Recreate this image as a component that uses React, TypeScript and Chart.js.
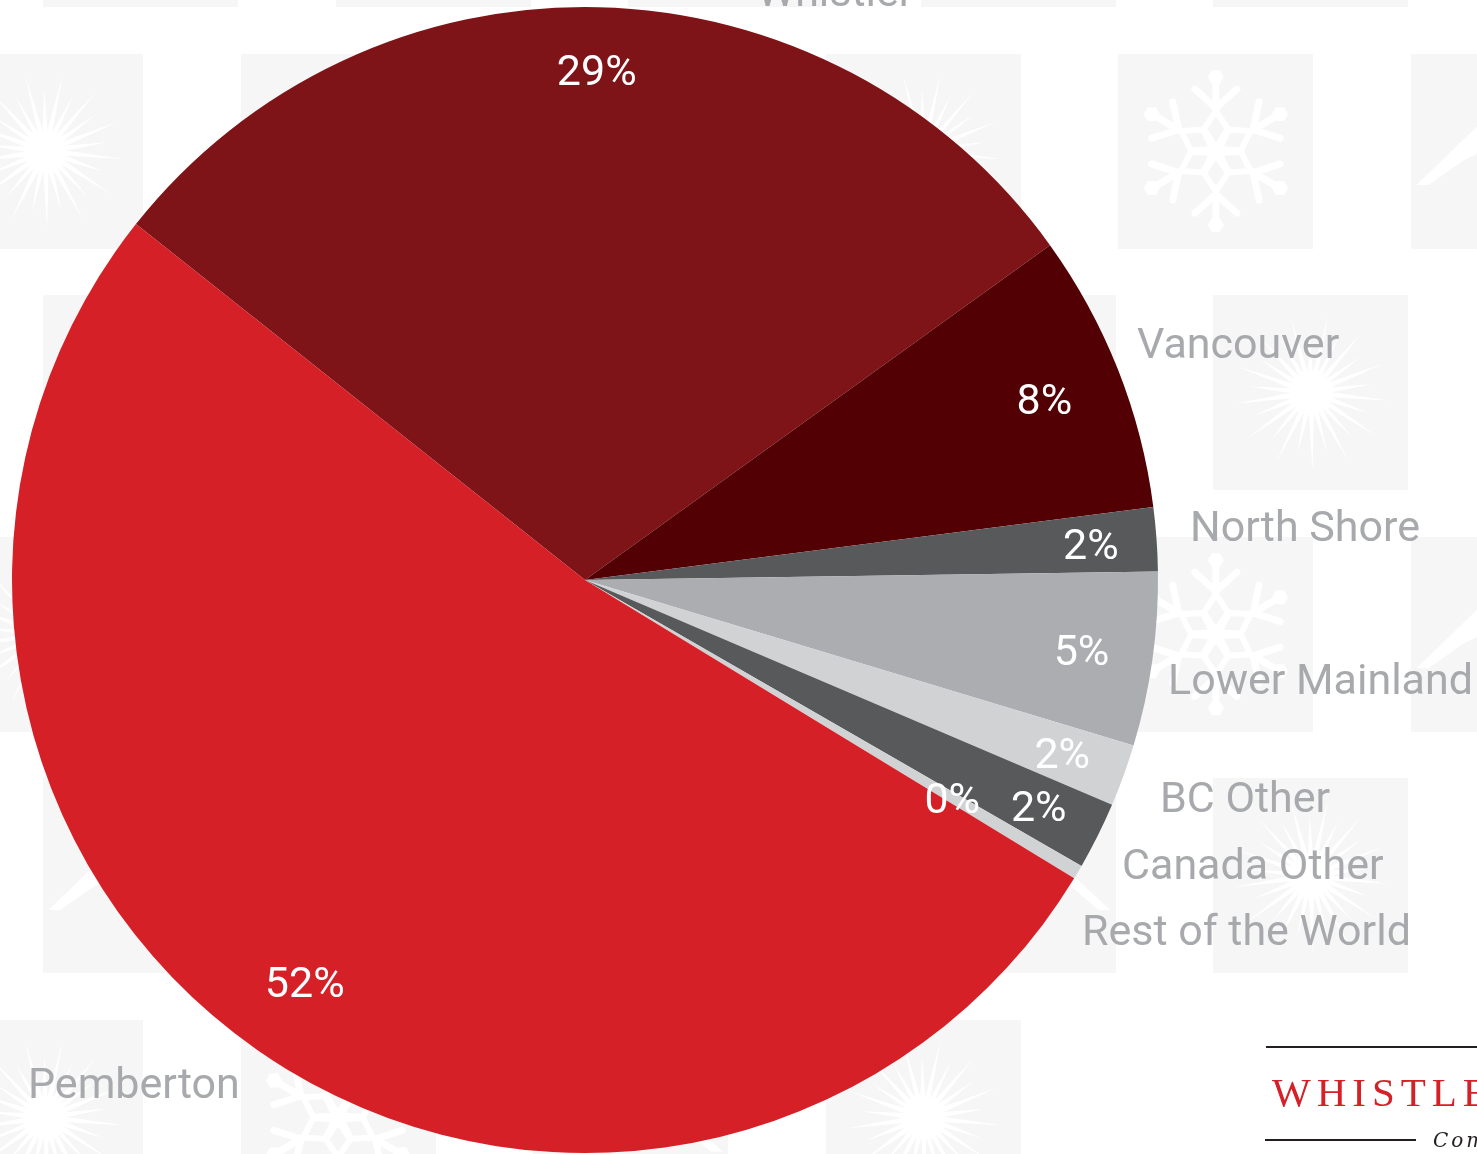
import React, { useEffect, useRef } from "react";
import { Chart, registerables } from "chart.js";

Chart.register(...registerables);

// ---- data ----
const categories = [
  "Whistler",
  "Vancouver",
  "North Shore",
  "Lower Mainland",
  "BC Other",
  "Canada Other",
  "Rest of the World",
  "Pemberton",
];
const shares = [29.4, 7.9, 1.8, 4.9, 1.75, 1.9, 0.4, 51.95];
const sliceColors = [
  "#7f1418",
  "#520004",
  "#58595b",
  "#acadb0",
  "#d1d2d4",
  "#58595b",
  "#d1d2d4",
  "#d52027",
];
const logoTitle = "WHISTLER";
const logoSub = "Com";

// ---- layout / style ----
const W = 1477;
const H = 1154;
const rotationDeg = -51.6;
const pctRadius = [0.89, 0.862, 0.885, 0.875, 0.886, 0.885, 0.745, 0.855];
// category label offsets from the pie centre (left-aligned, alphabetic baseline)
const nameOffsets: [number, number][] = [
  [172, -574],
  [552, -222],
  [605, -39],
  [583, 114],
  [575, 232],
  [537, 299],
  [497, 365],
  [-557, 518],
];
const labelGray = "#a7a9ac";
const tileGray = "#f6f6f6";

function drawBurst(ctx: CanvasRenderingContext2D, cx: number, cy: number) {
  ctx.save();
  ctx.fillStyle = "#ffffff";
  const n = 26;
  for (let i = 0; i < n; i++) {
    const a = (i / n) * Math.PI * 2 + 0.1;
    const L = i % 2 === 0 ? 78 : 62;
    const px = Math.cos(a + Math.PI / 2);
    const py = Math.sin(a + Math.PI / 2);
    ctx.beginPath();
    ctx.moveTo(cx + Math.cos(a) * 8 + px * 3.2, cy + Math.sin(a) * 8 + py * 3.2);
    ctx.lineTo(cx + Math.cos(a) * L, cy + Math.sin(a) * L);
    ctx.lineTo(cx + Math.cos(a) * 8 - px * 3.2, cy + Math.sin(a) * 8 - py * 3.2);
    ctx.closePath();
    ctx.fill();
  }
  ctx.beginPath();
  ctx.arc(cx, cy, 14, 0, Math.PI * 2);
  ctx.fill();
  ctx.restore();
}

function drawFlake(ctx: CanvasRenderingContext2D, cx: number, cy: number) {
  ctx.save();
  ctx.strokeStyle = "#ffffff";
  ctx.fillStyle = "#ffffff";
  ctx.lineWidth = 7;
  ctx.lineCap = "round";
  for (let k = 0; k < 6; k++) {
    const a = (k * Math.PI) / 3 - Math.PI / 2;
    const ux = Math.cos(a);
    const uy = Math.sin(a);
    const vx = -uy;
    const vy = ux;
    ctx.beginPath();
    ctx.moveTo(cx + ux * 38, cy + uy * 38);
    ctx.lineTo(cx + ux * 66, cy + uy * 66);
    ctx.stroke();
    ctx.beginPath();
    ctx.moveTo(cx + ux * 62 + vx * 21, cy + uy * 62 + vy * 21);
    ctx.lineTo(cx + ux * 43, cy + uy * 43);
    ctx.lineTo(cx + ux * 62 - vx * 21, cy + uy * 62 - vy * 21);
    ctx.stroke();
    ctx.beginPath();
    for (let h = 0; h < 6; h++) {
      const b = (h * Math.PI) / 3;
      const hx = cx + ux * 74 + Math.cos(b) * 8;
      const hy = cy + uy * 74 + Math.sin(b) * 8;
      if (h === 0) ctx.moveTo(hx, hy);
      else ctx.lineTo(hx, hy);
    }
    ctx.closePath();
    ctx.fill();
    ctx.beginPath();
    ctx.moveTo(cx + ux * 4, cy + uy * 4);
    ctx.lineTo(cx + ux * 22 + vx * 12, cy + uy * 22 + vy * 12);
    ctx.lineTo(cx + ux * 40, cy + uy * 40);
    ctx.lineTo(cx + ux * 22 - vx * 12, cy + uy * 22 - vy * 12);
    ctx.closePath();
    ctx.lineWidth = 6;
    ctx.stroke();
    ctx.lineWidth = 7;
  }
  ctx.restore();
}

function drawMountain(ctx: CanvasRenderingContext2D, cx: number, cy: number) {
  ctx.save();
  ctx.fillStyle = "#ffffff";
  ctx.beginPath();
  ctx.moveTo(cx - 92, cy + 34);
  ctx.lineTo(cx - 30, cy - 26);
  ctx.lineTo(cx + 2, cy - 50);
  ctx.lineTo(cx + 40, cy - 14);
  ctx.lineTo(cx + 92, cy + 34);
  ctx.lineTo(cx + 80, cy + 34);
  ctx.lineTo(cx + 34, cy - 6);
  ctx.lineTo(cx + 18, cy + 4);
  ctx.lineTo(cx + 2, cy - 36);
  ctx.lineTo(cx - 18, cy - 4);
  ctx.lineTo(cx - 46, cy + 10);
  ctx.lineTo(cx - 80, cy + 34);
  ctx.closePath();
  ctx.fill();
  ctx.restore();
}

const backgroundPlugin = {
  id: "tiledBackground",
  beforeDraw(chart: any) {
    const ctx: CanvasRenderingContext2D = chart.ctx;
    ctx.save();
    ctx.fillStyle = "#ffffff";
    ctx.fillRect(0, 0, chart.width, chart.height);
    const size = 195;
    const stepX = 292.6;
    const stepY = 241.6;
    for (let r = 0; r < 6; r++) {
      const y0 = -188 + r * stepY;
      const rowA = r % 2 === 0;
      const x00 = rowA ? 43 : -52;
      for (let j = 0; j < 6; j++) {
        const x0 = x00 + j * stepX;
        ctx.fillStyle = tileGray;
        ctx.fillRect(Math.round(x0), Math.round(y0), size, size);
        const cx = x0 + size / 2;
        const cy = y0 + size / 2;
        const kind = rowA ? (j + 2) % 3 : j % 3;
        if (kind === 0) drawBurst(ctx, cx, cy);
        else if (kind === 1) drawFlake(ctx, cx, cy);
        else drawMountain(ctx, cx, cy);
      }
    }
    // blank panel behind the logo
    ctx.fillStyle = "#ffffff";
    ctx.fillRect(1118, 1020, W - 1118, H - 1020);
    ctx.restore();
  },
};

const labelPlugin = {
  id: "sliceLabels",
  afterDatasetsDraw(chart: any) {
    const ctx: CanvasRenderingContext2D = chart.ctx;
    const meta = chart.getDatasetMeta(0);
    const values: number[] = chart.data.datasets[0].data;
    const total = values.reduce((s, v) => s + v, 0);
    ctx.save();
    meta.data.forEach((arc: any, i: number) => {
      const p = arc.getProps(["x", "y", "startAngle", "endAngle", "outerRadius"], true);
      const mid = (p.startAngle + p.endAngle) / 2;
      const r = p.outerRadius * pctRadius[i];
      const tx = p.x + Math.cos(mid) * r;
      const ty = p.y + Math.sin(mid) * r;
      ctx.font = "43px Roboto";
      ctx.fillStyle = "#ffffff";
      ctx.textAlign = "center";
      ctx.textBaseline = "alphabetic";
      ctx.fillText(Math.round((values[i] / total) * 100) + "%", tx, ty + 15);
      const [dx, dy] = nameOffsets[i];
      ctx.font = "43px Roboto";
      ctx.fillStyle = labelGray;
      ctx.textAlign = "left";
      ctx.fillText(chart.data.labels[i], p.x + dx, p.y + dy);
    });
    ctx.restore();
  },
};

const logoPlugin = {
  id: "logo",
  afterDraw(chart: any) {
    const ctx: any = chart.ctx;
    ctx.save();
    ctx.fillStyle = "#231f20";
    ctx.fillRect(1266, 1046, W - 1266, 2);
    ctx.fillRect(1265, 1139, 151, 2);
    ctx.fillStyle = "#d52027";
    ctx.font = "41px 'Liberation Serif'";
    ctx.textAlign = "left";
    ctx.textBaseline = "alphabetic";
    ctx.letterSpacing = "6px";
    ctx.fillText(logoTitle, 1272, 1106);
    ctx.fillStyle = "#231f20";
    ctx.font = "italic 20px 'DejaVu Serif'";
    ctx.letterSpacing = "3px";
    ctx.fillText(logoSub, 1433, 1147);
    ctx.restore();
  },
};

export default function App() {
  const canvasRef = useRef<HTMLCanvasElement | null>(null);

  useEffect(() => {
    document.body.style.margin = "0";
    const canvas = canvasRef.current;
    if (!canvas) return;
    const chart = new Chart(canvas, {
      type: "pie",
      data: {
        labels: categories,
        datasets: [
          {
            data: shares,
            backgroundColor: sliceColors,
            borderWidth: 0,
          },
        ],
      },
      options: {
        responsive: false,
        animation: false,
        devicePixelRatio: 1,
        rotation: rotationDeg,
        layout: { padding: { left: 12, top: 7, right: W - 1158, bottom: H - 1153 } },
        plugins: {
          legend: { display: false },
          tooltip: { enabled: false },
        },
      },
      plugins: [backgroundPlugin, labelPlugin, logoPlugin],
    });
    return () => chart.destroy();
  }, []);

  return (
    <div style={{ position: "absolute", left: 0, top: 0, width: W, height: H, overflow: "hidden" }}>
      <canvas ref={canvasRef} width={W} height={H} style={{ display: "block", width: W, height: H }} />
    </div>
  );
}
